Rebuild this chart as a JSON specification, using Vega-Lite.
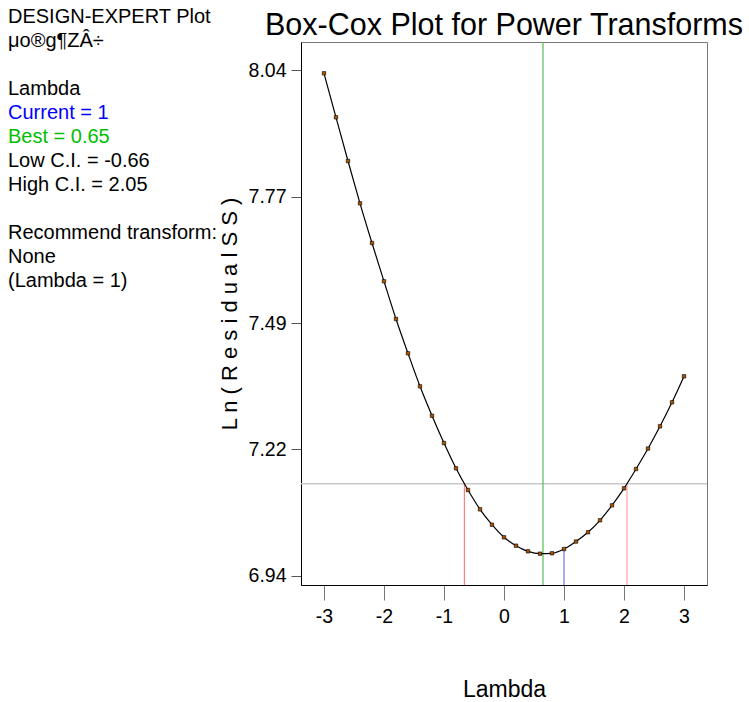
{
  "$schema": "https://vega.github.io/schema/vega-lite/v6.json",
  "background": "white",
  "padding": {"left": 8, "top": 6, "right": 0, "bottom": 0},
  "autosize": {"type": "pad"},
  "config": {"font": "Liberation Sans", "view": {"stroke": null}},
  "bounds": "flush",
  "spacing": 0,
  "resolve": {"scale": {"color": "independent", "x": "independent", "y": "independent"}},
  "datasets": {
    "notes": [
      {"row": 0, "label": "DESIGN-EXPERT Plot", "kind": "plain"},
      {"row": 1, "label": "μo®g¶ZÂ÷", "kind": "plain"},
      {"row": 3, "label": "Lambda", "kind": "plain"},
      {"row": 4, "label": "Current = 1", "kind": "current"},
      {"row": 5, "label": "Best = 0.65", "kind": "best"},
      {"row": 6, "label": "Low C.I. = -0.66", "kind": "plain"},
      {"row": 7, "label": "High C.I. = 2.05", "kind": "plain"},
      {"row": 9, "label": "Recommend transform:", "kind": "plain"},
      {"row": 10, "label": "None", "kind": "plain"},
      {"row": 11, "label": "\u00a0(Lambda = 1)", "kind": "plain"}
    ],
    "boxcox": [
      {"lambda": -3.0, "lnss": 8.0335},
      {"lambda": -2.8, "lnss": 7.9377},
      {"lambda": -2.6, "lnss": 7.8426},
      {"lambda": -2.4, "lnss": 7.7505},
      {"lambda": -2.2, "lnss": 7.6641},
      {"lambda": -2.0, "lnss": 7.5808},
      {"lambda": -1.8, "lnss": 7.4987},
      {"lambda": -1.6, "lnss": 7.4241},
      {"lambda": -1.4, "lnss": 7.3522},
      {"lambda": -1.2, "lnss": 7.2882},
      {"lambda": -1.0, "lnss": 7.2288},
      {"lambda": -0.8, "lnss": 7.1738},
      {"lambda": -0.6, "lnss": 7.1265},
      {"lambda": -0.4, "lnss": 7.0845},
      {"lambda": -0.2, "lnss": 7.0510},
      {"lambda": 0.0, "lnss": 7.0236},
      {"lambda": 0.2, "lnss": 7.0053},
      {"lambda": 0.4, "lnss": 6.9931},
      {"lambda": 0.6, "lnss": 6.9879},
      {"lambda": 0.8, "lnss": 6.9888},
      {"lambda": 1.0, "lnss": 6.9981},
      {"lambda": 1.2, "lnss": 7.0144},
      {"lambda": 1.4, "lnss": 7.0345},
      {"lambda": 1.6, "lnss": 7.0606},
      {"lambda": 1.8, "lnss": 7.0932},
      {"lambda": 2.0, "lnss": 7.1302},
      {"lambda": 2.2, "lnss": 7.1722},
      {"lambda": 2.4, "lnss": 7.2168},
      {"lambda": 2.6, "lnss": 7.2652},
      {"lambda": 2.8, "lnss": 7.3174},
      {"lambda": 3.0, "lnss": 7.3740}
    ],
    "limits": [
      {"lambda": -0.66, "lnss": 6.9198, "lnss_top": 7.14, "kind": "Low C.I."},
      {"lambda": 2.05, "lnss": 6.9198, "lnss_top": 7.14, "kind": "High C.I."},
      {"lambda": 1.0, "lnss": 6.9198, "lnss_top": 6.998, "kind": "Current"},
      {"lambda": 0.65, "lnss": 6.9198, "lnss_top": 8.1016, "kind": "Best"}
    ],
    "threshold": [
      {"lnss": 7.14}
    ]
  },
  "hconcat": [
    {
      "width": 293,
      "height": 543,
      "data": {"name": "notes"},
      "mark": {"type": "text", "align": "left", "baseline": "middle", "fontSize": 20, "font": "Liberation Sans"},
      "encoding": {
        "x": {"value": 0},
        "y": {"field": "row", "type": "quantitative", "scale": {"domain": [1.0625, 23.6875], "reverse": true, "nice": false, "zero": false}, "axis": null},
        "text": {"field": "label"},
        "color": {"field": "kind", "type": "nominal", "scale": {"domain": ["plain", "current", "best"], "range": ["#000000", "#0000ff", "#00c000"]}, "legend": null}
      }
    },
    {
      "width": 406,
      "height": 543,
      "title": {"text": "Box-Cox Plot for Power Transforms", "fontSize": 30.5, "fontWeight": "normal", "font": "Liberation Sans", "anchor": "middle", "offset": 0, "color": "#000"},
      "view": {"stroke": "#777", "strokeWidth": 1},
      "layer": [
        {
          "data": {"name": "threshold"},
          "mark": {"type": "rule", "color": "#c8c8c8", "strokeWidth": 1.5},
          "encoding": {
            "y": {"field": "lnss", "type": "quantitative", "scale": {"domain": [6.9198, 8.1016], "nice": false, "zero": false},
              "axis": {"title": "L n ( R e s i d u a l S S )", "values": [6.94, 7.2151, 7.49, 7.7651, 8.04], "format": ".2f", "tickSize": 10, "tickColor": "#555", "domainColor": "#000", "labelFontSize": 19.5, "labelColor": "#000", "labelPadding": 5, "labelFont": "Liberation Sans", "titleFont": "Liberation Sans", "titleFontSize": 22, "titleFontWeight": "normal", "titleColor": "#000", "titlePadding": 7, "grid": false}}
          }
        },
        {
          "data": {"name": "limits"},
          "mark": {"type": "rule", "strokeWidth": 1.2},
          "encoding": {
            "x": {"field": "lambda", "type": "quantitative", "scale": {"domain": [-3.383, 3.383], "nice": false, "zero": false},
              "axis": {"title": "Lambda", "values": [-3, -2, -1, 0, 1, 2, 3], "labelExpr": "'' + datum.value", "tickSize": 15, "tickColor": "#777", "domainColor": "#000", "labelFontSize": 19.5, "labelColor": "#000", "labelPadding": 7, "labelFont": "Liberation Sans", "titleFont": "Liberation Sans", "titleFontSize": 23, "titleFontWeight": "normal", "titleColor": "#000", "titlePadding": 53, "grid": false}},
            "y": {"field": "lnss", "type": "quantitative", "scale": {"domain": [6.9198, 8.1016], "nice": false, "zero": false},
              "axis": {"title": "L n ( R e s i d u a l S S )", "values": [6.94, 7.2151, 7.49, 7.7651, 8.04], "format": ".2f", "tickSize": 10, "tickColor": "#555", "domainColor": "#000", "labelFontSize": 19.5, "labelColor": "#000", "labelPadding": 5, "labelFont": "Liberation Sans", "titleFont": "Liberation Sans", "titleFontSize": 22, "titleFontWeight": "normal", "titleColor": "#000", "titlePadding": 7, "grid": false}},
            "y2": {"field": "lnss_top"},
            "color": {"field": "kind", "type": "nominal", "scale": {"domain": ["Low C.I.", "High C.I.", "Current", "Best"], "range": ["#ff8080", "#ffa0a0", "#7070ff", "#50c050"]}, "legend": null}
          }
        },
        {
          "data": {"name": "boxcox"},
          "mark": {"type": "line", "color": "#000", "strokeWidth": 1.2, "interpolate": "monotone"},
          "encoding": {
            "x": {"field": "lambda", "type": "quantitative", "scale": {"domain": [-3.383, 3.383], "nice": false, "zero": false},
              "axis": {"title": "Lambda", "values": [-3, -2, -1, 0, 1, 2, 3], "labelExpr": "'' + datum.value", "tickSize": 15, "tickColor": "#777", "domainColor": "#000", "labelFontSize": 19.5, "labelColor": "#000", "labelPadding": 7, "labelFont": "Liberation Sans", "titleFont": "Liberation Sans", "titleFontSize": 23, "titleFontWeight": "normal", "titleColor": "#000", "titlePadding": 53, "grid": false}},
            "y": {"field": "lnss", "type": "quantitative", "scale": {"domain": [6.9198, 8.1016], "nice": false, "zero": false},
              "axis": {"title": "L n ( R e s i d u a l S S )", "values": [6.94, 7.2151, 7.49, 7.7651, 8.04], "format": ".2f", "tickSize": 10, "tickColor": "#555", "domainColor": "#000", "labelFontSize": 19.5, "labelColor": "#000", "labelPadding": 5, "labelFont": "Liberation Sans", "titleFont": "Liberation Sans", "titleFontSize": 22, "titleFontWeight": "normal", "titleColor": "#000", "titlePadding": 7, "grid": false}}
          }
        },
        {
          "data": {"name": "boxcox"},
          "mark": {"type": "square", "size": 12, "fill": "#a85400", "stroke": "#000", "strokeWidth": 0.6, "opacity": 1},
          "encoding": {
            "x": {"field": "lambda", "type": "quantitative", "scale": {"domain": [-3.383, 3.383], "nice": false, "zero": false},
              "axis": {"title": "Lambda", "values": [-3, -2, -1, 0, 1, 2, 3], "labelExpr": "'' + datum.value", "tickSize": 15, "tickColor": "#777", "domainColor": "#000", "labelFontSize": 19.5, "labelColor": "#000", "labelPadding": 7, "labelFont": "Liberation Sans", "titleFont": "Liberation Sans", "titleFontSize": 23, "titleFontWeight": "normal", "titleColor": "#000", "titlePadding": 53, "grid": false}},
            "y": {"field": "lnss", "type": "quantitative", "scale": {"domain": [6.9198, 8.1016], "nice": false, "zero": false},
              "axis": {"title": "L n ( R e s i d u a l S S )", "values": [6.94, 7.2151, 7.49, 7.7651, 8.04], "format": ".2f", "tickSize": 10, "tickColor": "#555", "domainColor": "#000", "labelFontSize": 19.5, "labelColor": "#000", "labelPadding": 5, "labelFont": "Liberation Sans", "titleFont": "Liberation Sans", "titleFontSize": 22, "titleFontWeight": "normal", "titleColor": "#000", "titlePadding": 7, "grid": false}}
          }
        }
      ]
    }
  ]
}
